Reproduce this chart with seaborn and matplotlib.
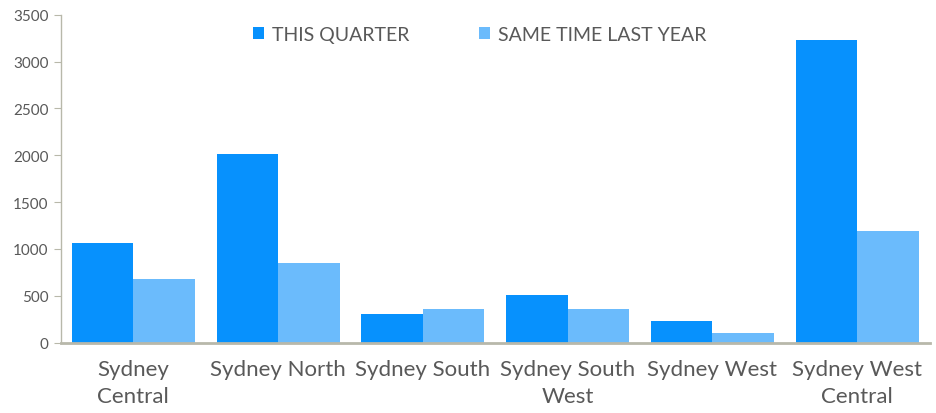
import matplotlib.pyplot as plt
import pandas as pd
import seaborn as sns

regions = ["Sydney\nCentral", "Sydney North", "Sydney South",
           "Sydney South\nWest", "Sydney West", "Sydney West\nCentral"]
this_quarter = [1062, 2015, 310, 510, 232, 3227]
last_year = [679, 850, 362, 360, 107, 1193]
series = ["THIS QUARTER", "SAME TIME LAST YEAR"]

df = pd.DataFrame({
    "region": regions * 2,
    "value": this_quarter + last_year,
    "series": [series[0]] * len(regions) + [series[1]] * len(regions),
})

sns.set_style("white")
plt.rcParams['font.family'] = ['Lato', 'DejaVu Sans']

fig, ax = plt.subplots(figsize=(9.37, 4.14), dpi=100)
fig.subplots_adjust(left=0.065, right=0.992, top=0.962, bottom=0.17)

sns.barplot(data=df, x="region", y="value", hue="series", width=0.85,
            palette=["#0791FD", "#6BBBFC"], saturation=1, ax=ax,
            edgecolor="none")

ax.set_ylim(0, 3500)
ax.set_yticks(range(0, 3501, 500))
ax.set_xlim(-0.5, 5.5)
ax.set_xlabel("")
ax.set_ylabel("")

spine_col = "#B8B8AA"
for s in ["top", "right"]:
    ax.spines[s].set_visible(False)
ax.spines["left"].set_color(spine_col)
ax.spines["bottom"].set_color(spine_col)
ax.spines["bottom"].set_linewidth(2)
ax.spines["left"].set_linewidth(1)

ax.tick_params(axis="y", length=5, color=spine_col, labelsize=11,
               labelcolor="#595959", left=True, pad=4)
ax.tick_params(axis="x", length=0, labelsize=16, labelcolor="#595959", pad=12)
for lbl in ax.get_xticklabels():
    lbl.set_linespacing(1.4)

leg = ax.legend(loc="upper center", bbox_to_anchor=(0.482, 1.02), ncol=2,
                frameon=False, fontsize=14, handlelength=0.6, handleheight=0.6,
                handletextpad=0.4, columnspacing=3.55)
for t in leg.get_texts():
    t.set_color("#595959")

plt.savefig("out.png", dpi=100)
